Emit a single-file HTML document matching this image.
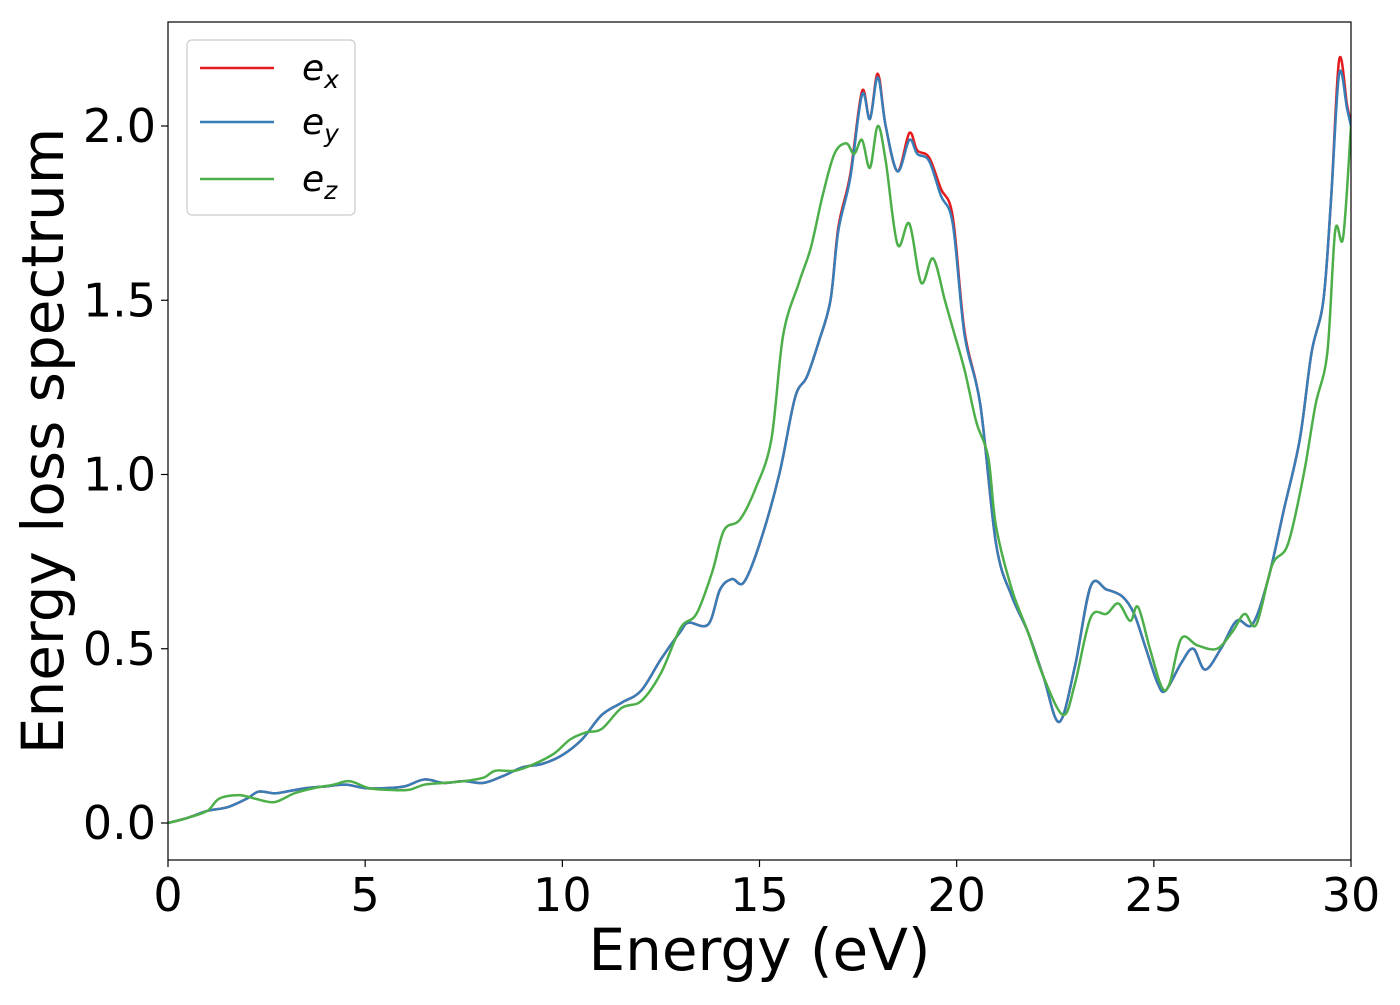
<!DOCTYPE html>
<html><head><meta charset="utf-8"><style>
body{margin:0;background:#fff}
text{font-family:"DejaVu Sans","Liberation Sans",sans-serif;fill:#000}
</style></head><body>
<svg id="chart" width="1400" height="1000" xmlns="http://www.w3.org/2000/svg">
<g id="plot"></g>
</svg>
<script>
const exX=[0,0.5,1,1.5,2,2.3,2.7,3,3.5,4,4.5,5,5.5,6,6.5,7,7.5,8,8.5,9,9.5,10,10.5,11,11.5,12,12.5,13,13.2,13.7,14,14.3,14.6,15,15.5,15.9,16.2,16.5,16.8,17,17.3,17.6,17.8,18,18.2,18.5,18.8,19,19.3,19.6,19.9,20.2,20.6,21,21.4,21.8,22.2,22.6,23,23.4,23.8,24.2,24.5,24.8,25.1,25.3,25.7,26,26.3,26.7,27.1,27.5,27.9,28.3,28.7,29,29.3,29.5,29.7,29.9,30];
const eyY=[0,0.015,0.035,0.045,0.07,0.09,0.085,0.09,0.1,0.105,0.11,0.1,0.1,0.105,0.125,0.115,0.12,0.115,0.135,0.16,0.17,0.195,0.24,0.31,0.345,0.38,0.47,0.55,0.575,0.57,0.67,0.7,0.69,0.8,1.0,1.22,1.28,1.38,1.5,1.7,1.85,2.09,2.02,2.14,2.0,1.87,1.96,1.92,1.9,1.8,1.72,1.4,1.2,0.8,0.65,0.55,0.42,0.29,0.45,0.68,0.67,0.65,0.6,0.5,0.4,0.38,0.46,0.5,0.44,0.5,0.58,0.57,0.7,0.9,1.1,1.35,1.5,1.8,2.15,2.05,2.0];
const exY=[0,0.015,0.035,0.045,0.07,0.09,0.085,0.09,0.1,0.105,0.11,0.1,0.1,0.105,0.125,0.115,0.12,0.115,0.135,0.16,0.17,0.195,0.24,0.31,0.345,0.38,0.47,0.55,0.575,0.57,0.67,0.7,0.69,0.8,1.0,1.22,1.28,1.38,1.5,1.71,1.86,2.1,2.02,2.15,2.0,1.87,1.98,1.93,1.91,1.82,1.74,1.41,1.2,0.8,0.65,0.55,0.42,0.29,0.45,0.68,0.67,0.65,0.6,0.5,0.4,0.38,0.46,0.5,0.44,0.5,0.58,0.57,0.7,0.9,1.1,1.35,1.5,1.8,2.19,2.06,2.01];
const ezX=[0,0.5,1,1.3,1.8,2.2,2.7,3.2,3.7,4.2,4.6,5.1,5.6,6.1,6.5,7,7.5,8,8.3,8.8,9.3,9.8,10.2,10.6,11,11.5,12,12.5,13,13.4,13.8,14.1,14.5,14.9,15.3,15.6,16,16.3,16.6,16.9,17.2,17.4,17.6,17.8,18,18.2,18.5,18.8,19.1,19.4,19.7,19.9,20.2,20.5,20.8,21,21.4,21.8,22.2,22.7,23,23.4,23.8,24.1,24.4,24.6,24.9,25.2,25.4,25.7,26.1,26.6,27,27.3,27.6,28,28.4,28.8,29.1,29.4,29.6,29.8,30];
const ezY=[0,0.015,0.035,0.07,0.08,0.07,0.06,0.085,0.1,0.11,0.12,0.1,0.095,0.095,0.11,0.115,0.12,0.13,0.15,0.15,0.17,0.2,0.24,0.26,0.27,0.33,0.35,0.43,0.56,0.6,0.72,0.84,0.87,0.96,1.1,1.4,1.55,1.65,1.8,1.92,1.95,1.92,1.96,1.88,2.0,1.9,1.66,1.72,1.55,1.62,1.5,1.42,1.3,1.15,1.05,0.85,0.67,0.55,0.42,0.31,0.4,0.59,0.6,0.63,0.58,0.62,0.5,0.39,0.4,0.53,0.51,0.5,0.55,0.6,0.57,0.74,0.8,1.0,1.2,1.35,1.7,1.68,2.0];
const xTicks=[0,5,10,15,20,25,30];
const yTicks=[0.0,0.5,1.0,1.5,2.0];

const L=168,R=1351,T=22,B=860;
const sx=v=>L+(R-L)*v/30;
const sy=v=>823-348.5*v;
const NS="http://www.w3.org/2000/svg";
const g=document.getElementById('plot');
function mk(t,a){const e=document.createElementNS(NS,t);for(const k in a)e.setAttribute(k,a[k]);g.appendChild(e);return e;}
function path(xs,ys){const p=xs.map((x,i)=>[sx(x),sy(ys[i])]);let d=`M${p[0][0]},${p[0][1]}`;
for(let i=0;i<p.length-1;i++){const p0=p[Math.max(0,i-1)],p1=p[i],p2=p[i+1],p3=p[Math.min(p.length-1,i+2)];
d+=` C${p1[0]+(p2[0]-p0[0])/6},${p1[1]+(p2[1]-p0[1])/6} ${p2[0]-(p3[0]-p1[0])/6},${p2[1]-(p3[1]-p1[1])/6} ${p2[0]},${p2[1]}`;}return d;}
const clip=document.createElementNS(NS,'clipPath');clip.id='c';const cr=document.createElementNS(NS,'rect');
cr.setAttribute('x',L);cr.setAttribute('y',T);cr.setAttribute('width',R-L);cr.setAttribute('height',B-T);clip.appendChild(cr);g.appendChild(clip);
let e;
e=mk('path',{d:path(exX,exY),fill:'none',stroke:'#e41a1c','stroke-width':2.5,'clip-path':'url(#c)'});


e=mk('path',{d:path(exX,eyY),fill:'none',stroke:'#377eb8','stroke-width':2.5,'clip-path':'url(#c)'});


e=mk('path',{d:path(ezX,ezY),fill:'none',stroke:'#4daf4a','stroke-width':2.5,'clip-path':'url(#c)'});


e=mk('rect',{x:L,y:T,width:R-L,height:B-T,fill:'none',stroke:'#000','stroke-width':1.2});


xTicks.forEach(v=>{
 e=mk('line',{x1:sx(v),x2:sx(v),y1:B,y2:B+7,stroke:'#000','stroke-width':1.2});
 
 
 e=mk('text',{x:sx(v),y:B+51,'text-anchor':'middle','font-size':46});e.textContent=v;
 
 
});
yTicks.forEach(v=>{
 e=mk('line',{x1:L-7,x2:L,y1:sy(v),y2:sy(v),stroke:'#000','stroke-width':1.2});
 
 
 e=mk('text',{x:L-12,y:sy(v)+16,'text-anchor':'end','font-size':46});e.textContent=v.toFixed(1);
 
 
});
e=mk('text',{x:(L+R)/2,y:970,'text-anchor':'middle','font-size':58});e.textContent='Energy (eV)';


e=mk('text',{x:0,y:0,'text-anchor':'middle','font-size':58,transform:`translate(63,${(T+B)/2}) rotate(-90)`});e.textContent='Energy loss spectrum';


e=mk('rect',{x:187,y:40,width:168,height:175,rx:5,fill:'#fff',stroke:'#ccc','stroke-width':1.2});


const leg=[['x','#e41a1c',68],['y','#377eb8',122],['z','#4daf4a',179]];
leg.forEach(([s,c,y])=>{
 e=mk('line',{x1:200,x2:274,y1:y,y2:y,stroke:c,'stroke-width':2.5});
 
 
 e=mk('text',{x:302,y:y+12,'font-size':36,'font-style':'italic'});
 e.innerHTML=`e<tspan font-size="25" dy="8">${s}</tspan>`;
 
 
});
</script>
</body></html>
